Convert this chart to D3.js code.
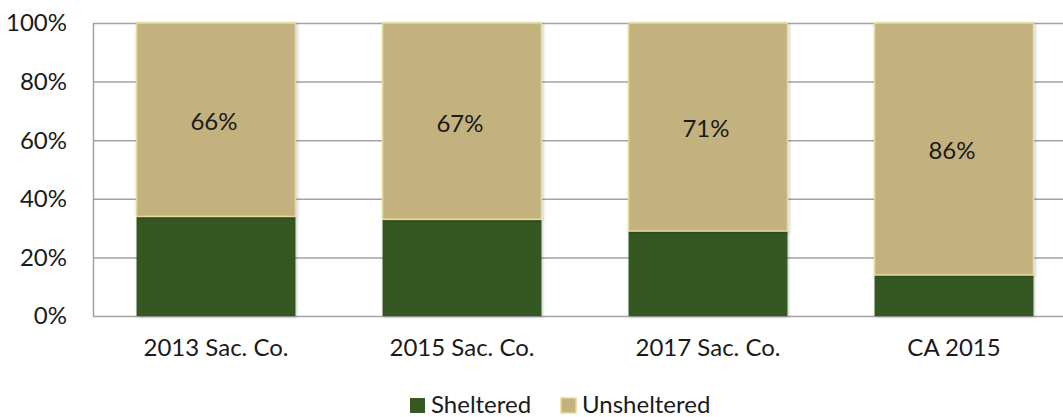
<!DOCTYPE html>
<meta charset="utf-8">
<html>
<script src="https://d3js.org/d3.v7.min.js"></script>
<style>
    body { margin: 0; background: #fff; }
    text { font-family: Lato, "Noto Sans", sans-serif; fill: #1a1a1a; }
</style>
<body>
<div id="chart"></div>
<script>
    // Data
    var categories = ["2013 Sac. Co.", "2015 Sac. Co.", "2017 Sac. Co.", "CA 2015"];
    var sheltered = [34, 33, 29, 14];
    var unsheltered = [66, 67, 71, 86];
    var seriesNames = ["Sheltered", "Unsheltered"];
    var yTicks = [0, 20, 40, 60, 80, 100];

    var colors = { Sheltered: "#365822", Unsheltered: "#c3b27e" };

    var W = 1063, H = 417;
    var margin = { top: 23, left: 93, bottom: 101 };
    var plotH = H - margin.top - margin.bottom;
    var fontSize = "24px";

    var svg = d3.select("#chart").append("svg")
        .attr("width", W).attr("height", H);

    // shadow for bars
    var defs = svg.append("defs");
    var f = defs.append("filter").attr("id", "shadow")
        .attr("x", "-10%").attr("y", "-10%").attr("width", "120%").attr("height", "120%");
    f.append("feDropShadow").attr("dx", 1).attr("dy", 1).attr("stdDeviation", 1.5)
        .attr("flood-color", "#000").attr("flood-opacity", 0.25);

    var x = d3.scaleBand().domain(categories)
        .range([margin.left, margin.left + 246 * 4])
        .paddingInner(0.354).paddingOuter(0.177);

    var y = d3.scaleLinear().domain([0, 100])
        .range([margin.top + plotH, margin.top]);

    // Gridlines
    svg.append("g").selectAll("line")
        .data(yTicks).enter().append("line")
        .attr("x1", margin.left).attr("x2", W)
        .attr("y1", function (d) { return y(d) + 0.5; })
        .attr("y2", function (d) { return y(d) + 0.5; })
        .attr("stroke", "#a3a3a3").attr("stroke-width", 1.5);

    svg.append("line")
        .attr("x1", margin.left + 0.5).attr("x2", margin.left + 0.5)
        .attr("y1", y(100)).attr("y2", y(0) + 1)
        .attr("stroke", "#a3a3a3").attr("stroke-width", 1.5);

    // Y tick labels
    svg.append("g").selectAll("text")
        .data(yTicks).enter().append("text")
        .attr("x", 67).attr("y", function (d) { return y(d); })
        .attr("dy", "0.35em")
        .attr("text-anchor", "end")
        .style("font-size", fontSize)
        .text(function (d) { return d + "%"; });

    // Stacked bars
    var rows = categories.map(function (c, i) {
        return { cat: c, Sheltered: sheltered[i], Unsheltered: unsheltered[i] };
    });
    var stack = d3.stack().keys(seriesNames)(rows);

    svg.append("g").selectAll("g")
        .data(stack).enter().append("g")
        .attr("fill", function (s) { return colors[s.key]; })
        .selectAll("rect")
        .data(function (s) { return s.map(function (d) { d.key = s.key; return d; }); })
        .enter().append("rect")
        .attr("x", function (d) { return x(d.data.cat); })
        .attr("width", x.bandwidth())
        .attr("y", function (d) { return y(d[1]); })
        .attr("height", function (d) { return y(d[0]) - y(d[1]); })
        .attr("stroke", function (d) { return d.key === "Unsheltered" ? "#e3dc9a" : "none"; })
        .attr("stroke-width", 1.5)
        .attr("filter", "url(#shadow)");

    // Labels for unsheltered
    svg.append("g").selectAll("text")
        .data(stack[1]).enter().append("text")
        .attr("x", function (d) { return x(d.data.cat) + x.bandwidth() / 2 - 2; })
        .attr("y", function (d) { return (y(d[0]) + y(d[1])) / 2 + 2; })
        .attr("dy", "0.35em")
        .attr("text-anchor", "middle")
        .style("font-size", fontSize)
        .text(function (d) { return d.data.Unsheltered + "%"; });

    // X labels
    svg.append("g").selectAll("text")
        .data(categories).enter().append("text")
        .attr("x", function (d) { return x(d) + x.bandwidth() / 2; })
        .attr("y", 348)
        .attr("dy", "0.35em")
        .attr("text-anchor", "middle")
        .style("font-size", fontSize)
        .text(function (d) { return d; });

    // Legend
    var legendX = [410, 561];
    var legend = svg.append("g").selectAll("g")
        .data(seriesNames).enter().append("g")
        .attr("transform", function (d, i) { return "translate(" + legendX[i] + ",405)"; });
    legend.append("rect")
        .attr("x", 0).attr("y", -7).attr("width", 15).attr("height", 15)
        .attr("fill", function (d) { return colors[d]; })
        .attr("stroke", function (d) { return d === "Unsheltered" ? "#e3dc9a" : "none"; })
        .attr("stroke-width", 1.5);
    legend.append("text")
        .attr("x", 21).attr("y", 0).attr("dy", "0.35em")
        .style("font-size", fontSize)
        .text(function (d) { return d; });
</script>
</body>
</html>
